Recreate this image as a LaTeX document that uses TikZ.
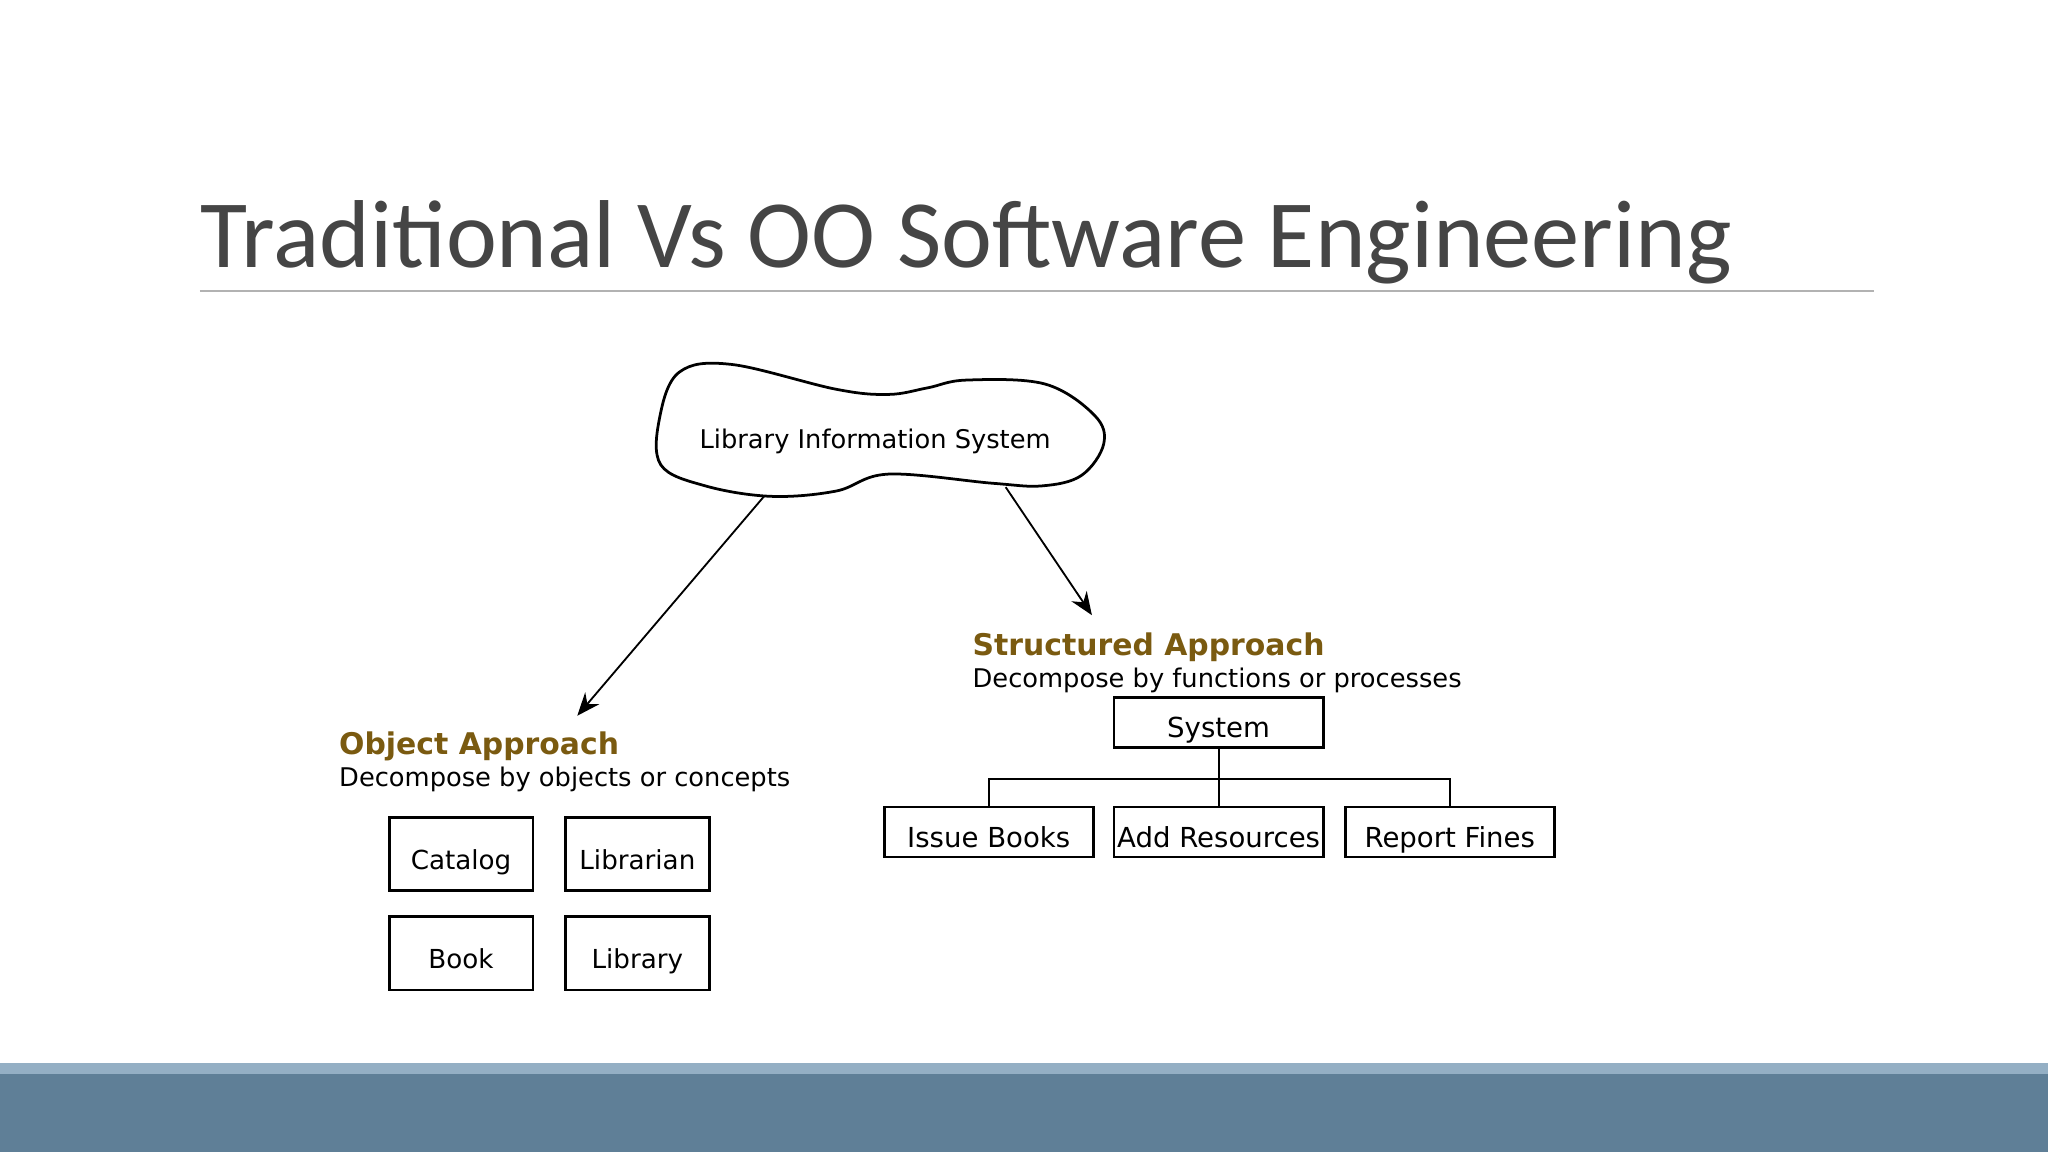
\documentclass[tikz,border=0pt]{standalone}
\usepackage{fontspec}
\setmainfont{DejaVu Sans}
\newfontfamily\titlefont{Carlito}
\usetikzlibrary{arrows.meta}
\definecolor{titlegray}{HTML}{454545}
\definecolor{approach}{HTML}{7A5A10}
\definecolor{bandlight}{HTML}{94AFC4}
\definecolor{banddark}{HTML}{5F7F97}
\tikzset{
	item/.style={draw,semithick,minimum width=1.6cm,minimum height=0.38cm,inner sep=0pt,text height=1.6ex,text depth=.4ex,font=\fontsize{6}{7}\selectfont},
	objitem/.style={item,minimum width=1.1cm,minimum height=0.56cm,font=\fontsize{5.7}{7}\selectfont},
	heading/.style={anchor=base west,inner sep=0pt,text=approach,font=\fontsize{6.5}{8}\selectfont\bfseries},
	subhead/.style={anchor=base west,inner sep=0pt,font=\fontsize{5.6}{7}\selectfont}
}
\begin{document}
\begin{tikzpicture}[x=0.01cm,y=-0.01cm]
	\useasboundingbox (0,0) rectangle (1568,882);
	\fill[white] (0,0) rectangle (1568,882);
	
	% title and bands
	\node[anchor=base west,inner sep=0pt,text=titlegray,font=\titlefont\fontsize{21}{26}\selectfont] (title) at (153,205) {Traditional Vs OO Software Engineering};
	\draw[gray!60] (153,223) -- (1435,223);
	\fill[bandlight] (0,814) rectangle (1568,822);
	\fill[banddark] (0,822) rectangle (1568,882);
	
	% cloud
	\draw[semithick] plot[smooth cycle,tension=.6] coordinates {(520,285) (560,279) (640,298) (680,302) (710,297) (740,291) (800,294) (838,318) (845,340) (828,364) (798,372) (760,370) (680,363) (640,376) (590,380) (540,372) (506,356) (505,320)};
	\node[font=\fontsize{5.6}{7}\selectfont] (lis) at (670,338) {Library Information System};
	\coordinate (cloudL) at (585,380);
	\coordinate (cloudR) at (770,373);
	\coordinate (objtip) at (442,548);
	\coordinate (strtip) at (836,471);
	\draw[-{Stealth[length=5pt,width=4pt]}] (cloudL) -- (objtip);
	\draw[-{Stealth[length=5pt,width=4pt]}] (cloudR) -- (strtip);
	
	% structured approach
	\node[heading] (strh) at (744,502) {Structured Approach};
	\node[subhead] (strs) at (744,526) {Decompose by functions or processes};
	\node[item] (system) at (933,553) {System};
	\node[item] (issue) at (757,637) {Issue Books};
	\node[item] (add) at (933,637) {Add Resources};
	\node[item] (fines) at (1110,637) {Report Fines};
	\draw (system.south) -- ++(0,23) coordinate (fork);
	\draw (issue.north) |- (fork) -| (fines.north);
	\draw (fork) -- (add.north);
	
	% object approach
	\node[heading] (objh) at (259,578) {Object Approach};
	\node[subhead] (objs) at (259,602) {Decompose by objects or concepts};
	\node[objitem] (catalog) at (353,654) {Catalog};
	\node[objitem] (librarian) at (488,654) {Librarian};
	\node[objitem] (book) at (353,730) {Book};
	\node[objitem] (library) at (488,730) {Library};
\end{tikzpicture}
\end{document}
